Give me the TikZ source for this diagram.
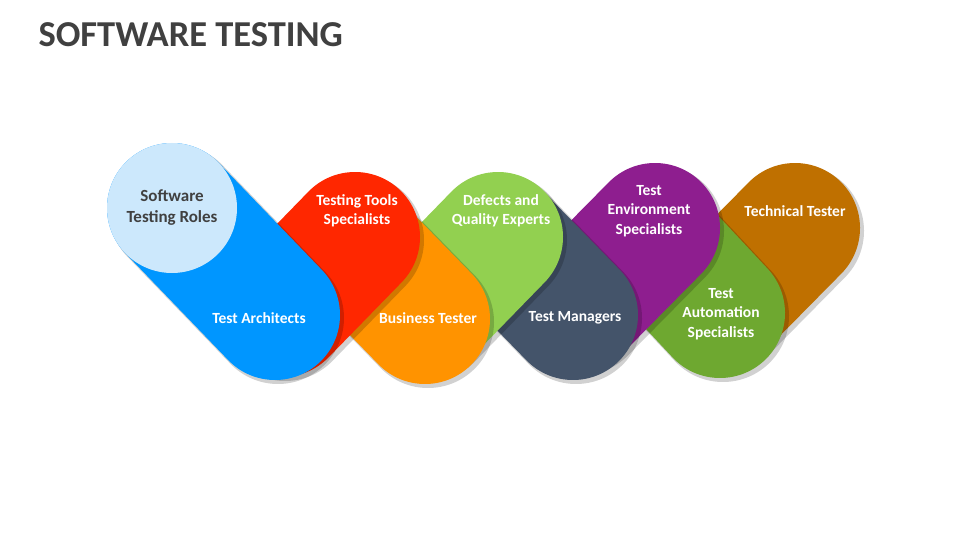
\documentclass[tikz,border=0pt]{standalone}
\usepackage{fontspec}
\setmainfont{Carlito}
\definecolor{archblue}{HTML}{0096FF}
\definecolor{toolred}{HTML}{FF2700}
\definecolor{busorange}{HTML}{FF9300}
\definecolor{defgreen}{HTML}{92D050}
\definecolor{mgrslate}{HTML}{44546A}
\definecolor{envpurple}{HTML}{8E1E8F}
\definecolor{autogreen}{HTML}{6EA830}
\definecolor{techbrown}{HTML}{BF7000}
\definecolor{rolecirc}{HTML}{CCE8FC}
\tikzset{
  capsule/.style={line width=130pt, line cap=round},
  capshade/.style={line width=132pt, line cap=round, black, opacity=0.18},
  role/.style={text=white, font=\bfseries\fontsize{15.5}{19.5}\selectfont, align=center}
}
\newcommand{\capsule}[3]{% colour, end one, end two
  \draw[capshade] ([shift={(3,3)}]#2) -- ([shift={(3,3)}]#3);
  \draw[capsule, #1] (#2) -- (#3);}
\begin{document}
\begin{tikzpicture}[x=1pt,y=-1pt]
  \useasboundingbox[fill=white] (0,0) rectangle (960,540);
  \node[anchor=west, text=black!75, font=\bfseries\fontsize{36.5}{40}\selectfont] (title) at (35,35) {SOFTWARE TESTING};
  % ends of the capsules
  \coordinate (bt) at (795,228); \coordinate (bb) at (722,302);
  \coordinate (at) at (650,238); \coordinate (ab) at (720,313);
  \coordinate (et) at (655,228); \coordinate (eb) at (578,306);
  \coordinate (mt) at (500,240); \coordinate (mb) at (573,315);
  \coordinate (dt) at (498,237); \coordinate (db) at (425,312);
  \coordinate (ot) at (352,244); \coordinate (ob) at (425,319);
  \coordinate (rt) at (355,237); \coordinate (rb) at (282,312);
  \coordinate (ct) at (172,208); \coordinate (cb) at (275,315);
  \capsule{techbrown}{bt}{bb}
  \capsule{autogreen}{at}{ab}
  \capsule{envpurple}{et}{eb}
  \capsule{mgrslate}{mt}{mb}
  \capsule{defgreen}{dt}{db}
  \capsule{busorange}{ot}{ob}
  \capsule{toolred}{rt}{rb}
  \capsule{archblue}{ct}{cb}
  \fill[rolecirc] (ct) circle (65);
  \node[role, text=black!75, font=\bfseries\fontsize{17}{21}\selectfont] (roles) at (172,208) {Software\\Testing Roles};
  \node[role] (arch) at (259,318) {Test Architects};
  \node[role] (tools) at (357,211) {Testing Tools\\Specialists};
  \node[role] (bus) at (428,318) {Business Tester};
  \node[role] (def) at (501,211) {Defects and\\Quality Experts};
  \node[role] (mgr) at (575,318) {Test Managers};
  \node[role] (env) at (649,211) {Test\\Environment\\Specialists};
  \node[role] (auto) at (721,314) {Test\\Automation\\Specialists};
  \node[role] (tech) at (795,211) {Technical Tester};
\end{tikzpicture}
\end{document}
